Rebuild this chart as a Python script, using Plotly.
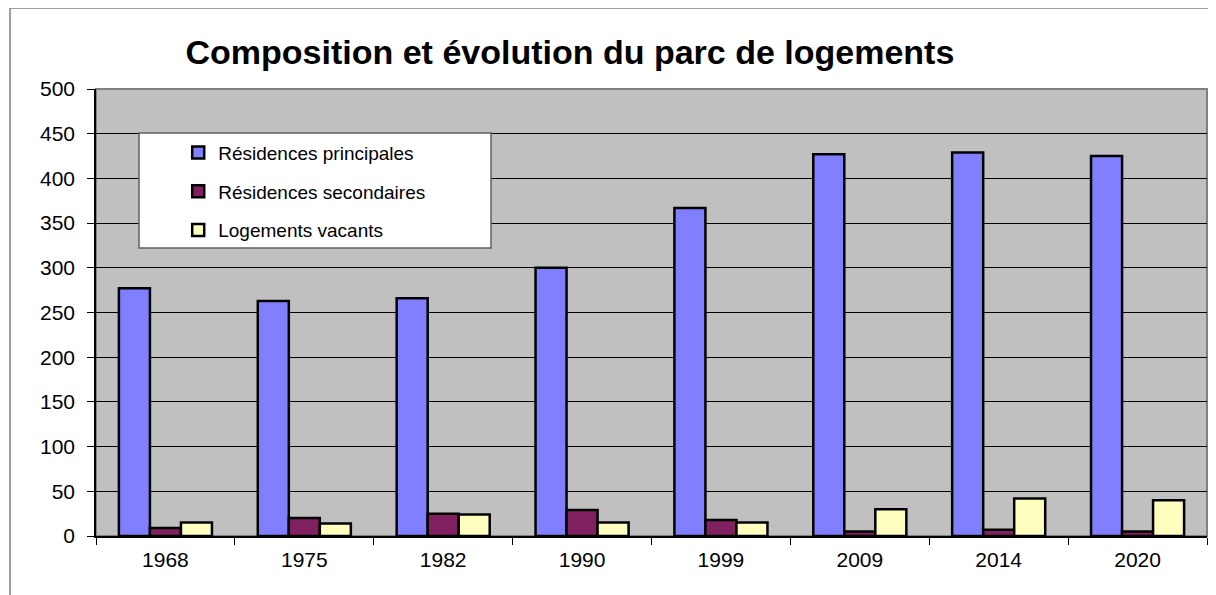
import plotly.graph_objects as go

years = ["1968", "1975", "1982", "1990", "1999", "2009", "2014", "2020"]
principales = [277, 263, 266, 300, 367, 427, 429, 425]
secondaires = [9, 20, 25, 29, 18, 5, 7, 5]
vacants = [15, 14, 24, 15, 15, 30, 42, 40]

names = ["Résidences principales", "Résidences secondaires", "Logements vacants"]
colors = ["#8080FF", "#802060", "#FFFFC0"]

FONT = "Liberation Sans, Arial, sans-serif"

# page body has an 8px margin, so the figure is shifted by 8px
fig = go.Figure()
for i, (name, vals, col) in enumerate(zip(names, [principales, secondaires, vacants], colors)):
    fig.add_trace(go.Bar(
        x=years, y=vals, name=name, legendgroup=str(i),
        marker=dict(color=col, line=dict(color="black", width=2.5)),
    ))

fig.update_layout(
    width=1208, height=587,
    margin=dict(l=88, r=9, t=81, b=59),
    paper_bgcolor="white",
    plot_bgcolor="#C0C0C0",
    font=dict(family=FONT, size=21, color="black"),
    barmode="group", bargap=0.33, bargroupgap=0,
    title=dict(text="<b>Composition et évolution du parc de logements</b>",
               font=dict(size=34, family=FONT, color="black"),
               x=0.4266, xref="paper", xanchor="center",
               y=1 - 44 / 587, yref="container", yanchor="middle"),
    legend=dict(x=0.074, xanchor="left", y=0.90, yanchor="top",
                bgcolor="rgba(0,0,0,0)", borderwidth=0,
                font=dict(size=19, family=FONT), traceorder="grouped",
                tracegroupgap=11),
    showlegend=True,
    shapes=[
        # outer frame
        dict(type="rect", xref="paper", yref="paper",
             x0=(10 - 96) / 1111, x1=1.2, y0=-0.5, y1=(536 - 8) / 447,
             line=dict(color="#808080", width=1.5), fillcolor="rgba(0,0,0,0)", layer="below"),
        # plot area border
        dict(type="rect", xref="paper", yref="paper", x0=0, x1=1, y0=0, y1=1,
             line=dict(color="#808080", width=2), fillcolor="rgba(0,0,0,0)", layer="below"),
        # legend box
        dict(type="rect", xref="paper", yref="paper",
             x0=(139 - 96) / 1111, x1=(491 - 96) / 1111,
             y0=(536 - 248) / 447, y1=(536 - 133) / 447,
             line=dict(color="#606060", width=1.5), fillcolor="white", layer="above"),
    ],
)

fig.update_yaxes(range=[0, 500], dtick=50, showgrid=True, gridcolor="black", gridwidth=1,
                 showline=True, linecolor="black", linewidth=1.5,
                 ticks="outside", ticklen=7, tickcolor="black", ticklabelstandoff=8,
                 tickfont=dict(size=21), zeroline=False)
fig.update_xaxes(showline=True, linecolor="black", linewidth=1.5,
                 ticks="outside", ticklen=7, tickcolor="black", tickson="boundaries",
                 ticklabelstandoff=4, tickfont=dict(size=21), showgrid=False)

fig.write_html("out.html")
